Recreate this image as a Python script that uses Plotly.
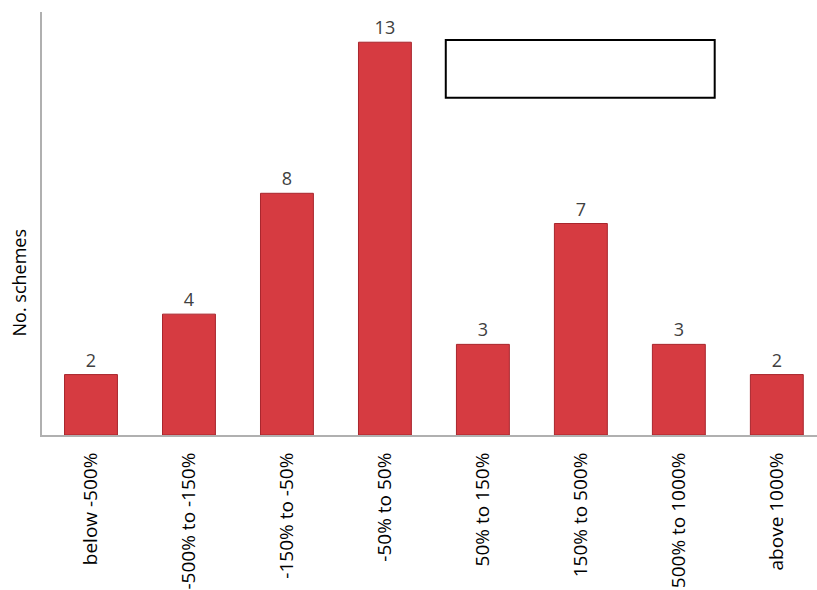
import plotly.graph_objects as go

# Distribution of schemes by cost-overrun band
categories = ["below -500%", "-500% to -150%", "-150% to -50%", "-50% to 50%",
              "50% to 150%", "150% to 500%", "500% to 1000%", "above 1000%"]
schemes = [2, 4, 8, 13, 3, 7, 3, 2]

fig = go.Figure()
fig.add_trace(go.Bar(
    x=categories,
    y=schemes,
    width=0.54,
    marker=dict(color="#d63b41", line=dict(color="#a8262d", width=1)),
    text=[str(v) for v in schemes],
    textposition="outside",
    textfont=dict(family="Open Sans", size=18, color="#404040"),
    cliponaxis=False,
))

fig.update_layout(
    width=817, height=590,
    margin=dict(l=42, r=0, t=12, b=155),
    paper_bgcolor="white", plot_bgcolor="white",
    showlegend=False,
    bargap=0.46,
    xaxis=dict(
        range=[-0.5, 7.41],
        tickangle=-90,
        tickfont=dict(family="Open Sans", size=19, color="#000000"),
        showline=True, linecolor="#b0b0b0", linewidth=2,
        ticks="", showgrid=False, zeroline=False,
        ticklabelstandoff=8,
    ),
    yaxis=dict(
        range=[0, 14],
        showline=True, linecolor="#b0b0b0", linewidth=2,
        showticklabels=False, ticks="", showgrid=False, zeroline=False,
    ),
    annotations=[dict(
        text="No. schemes", textangle=-90,
        xref="paper", yref="paper", x=-0.03, y=0.36,
        xanchor="center", yanchor="middle", showarrow=False,
        font=dict(family="Open Sans", size=18, color="#000000"),
    )],
    shapes=[dict(
        type="rect", xref="paper", yref="paper",
        x0=0.521, x1=0.868, y0=0.797, y1=0.934,
        line=dict(color="#000000", width=2), fillcolor="white",
    )],
)

fig.write_html("out.html")
